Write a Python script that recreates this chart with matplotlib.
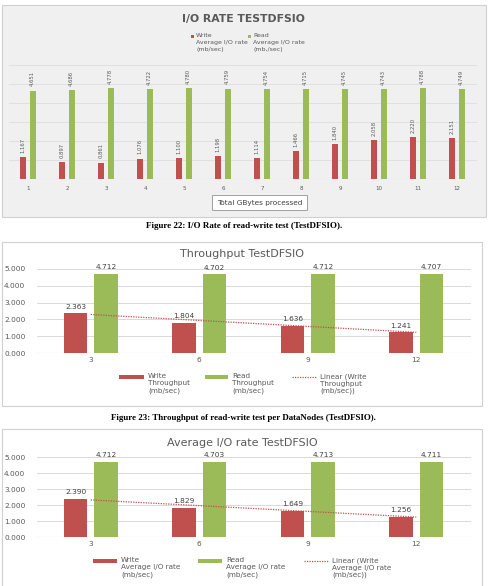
import numpy as np
import matplotlib
matplotlib.use("Agg")
import matplotlib.pyplot as plt
from matplotlib.patches import Rectangle
from matplotlib.lines import Line2D

W, H = 490, 586

# ---------------- data ----------------
gb_categories = ["1", "2", "3", "4", "5", "6", "7", "8", "9", "10", "11", "12"]
io_write = [1.167, 0.897, 0.861, 1.076, 1.100, 1.198, 1.114, 1.466, 1.840, 2.058, 2.220, 2.151]
io_read = [4.651, 4.686, 4.778, 4.722, 4.780, 4.759, 4.754, 4.715, 4.745, 4.743, 4.788, 4.749]

node_categories = ["3", "6", "9", "12"]
tp_write = [2.363, 1.804, 1.636, 1.241]
tp_read = [4.712, 4.702, 4.712, 4.707]

avg_write = [2.390, 1.829, 1.649, 1.256]
avg_read = [4.712, 4.703, 4.713, 4.711]

y_ticks_small = [0, 1, 2, 3, 4, 5]

RED = "#c0504d"
GREEN = "#9bbb59"
TXT = "#595959"
GRID = "#d9d9d9"

fig = plt.figure(figsize=(W / 100, H / 100), dpi=100)
fig.patch.set_facecolor("white")


def fx(x):
    return x / W


def fy(y):
    return 1 - y / H


def add_ax(left, top, right, bottom):
    ax = fig.add_axes([fx(left), fy(bottom), (right - left) / W, (bottom - top) / H])
    ax.set_zorder(3)
    return ax


def panel(x0, y0, x1, y1, face, edge):
    fig.patches.append(Rectangle((fx(x0), fy(y1)), (x1 - x0) / W, (y1 - y0) / H,
                                 transform=fig.transFigure, facecolor=face,
                                 edgecolor=edge, linewidth=0.8, zorder=-5))


def ftext(x, y, s, **kw):
    fig.text(fx(x), fy(y), s, **kw)


# ================= Chart 1 =================
panel(2, 5, 486, 217, "#f0f0f0", "#d0d0d0")
ftext(243, 19, "I/O RATE TESTDFSIO", ha="center", va="center",
      fontsize=7.8, fontweight="bold", color=TXT, family="DejaVu Sans")

# legend chart 1
for sx, col, lines in [(191, RED, ["Write", "Average I/O rate", "(mb/sec)"]),
                       (248, GREEN, ["Read", "Average I/O rate", "(mb,/sec)"])]:
    fig.patches.append(Rectangle((fx(sx), fy(38)), 3 / W, 3 / H, transform=fig.transFigure,
                                 facecolor=col, edgecolor="none"))
    ftext(sx + 5, 33, "\n".join(lines), ha="left", va="top", fontsize=4.5,
          color=TXT, linespacing=1.5)

ax1 = add_ax(8.5, 65, 476.5, 179)
x1 = np.arange(len(gb_categories))
bw = 0.15
ax1.bar(x1 - 0.12, io_write, bw, color=RED, zorder=3)
ax1.bar(x1 + 0.12, io_read, bw, color=GREEN, zorder=3)
for xi, v in zip(x1, io_write):
    ax1.annotate(f"{v:.3f}", (xi - 0.12, v), xytext=(0, 3), textcoords="offset points",
                 rotation=90, ha="center", va="bottom", fontsize=3.8, color=TXT)
for xi, v in zip(x1, io_read):
    ax1.annotate(f"{v:.3f}", (xi + 0.12, v), xytext=(0, 3), textcoords="offset points",
                 rotation=90, ha="center", va="bottom", fontsize=3.8, color=TXT)
ax1.set_xlim(-0.5, len(gb_categories) - 0.5)
ax1.set_ylim(0, 6)
ax1.set_yticks(range(0, 7))
ax1.set_yticklabels([])
ax1.set_xticks(x1)
ax1.set_xticklabels(gb_categories, fontsize=4, color=TXT)
ax1.tick_params(length=0, pad=5)
ax1.grid(axis="y", color="#e0e0e0", linewidth=0.7, zorder=0)
ax1.set_facecolor("none")
for s in ax1.spines.values():
    s.set_visible(False)
ax1.axhline(0, color="#d0d0d0", linewidth=0.8, zorder=2)

# axis title box
ftext(259.5, 202.5, "Total GBytes processed", ha="center", va="center", fontsize=5.3,
      color="#404040",
      bbox=dict(boxstyle="square,pad=0.6", facecolor="white", edgecolor="#a0a0a0", linewidth=0.7))

ftext(244, 226, "Figure 22: I/O Rate of read-write test (TestDFSIO).", ha="center", va="center",
      fontsize=6.5, fontweight="bold", family="Liberation Serif", color="black")


# ================= Charts 2 & 3 =================
def node_chart(top, bottom, ymid_title, title, write, read, wlab, rlab, llab,
               y0px, y5px, legend_y, leg_x):
    panel(2, top, 482, bottom, "white", "#d0d0d0")
    ftext(242, ymid_title, title, ha="center", va="center", fontsize=8, color=TXT)
    ax = add_ax(36.5, y5px, 470.5, y0px)
    x = np.arange(len(node_categories))
    w = 0.22
    ax.bar(x - 0.14, write, w, color=RED, zorder=3)
    ax.bar(x + 0.14, read, w, color=GREEN, zorder=3)
    for xi, v in zip(x, write):
        ax.annotate(f"{v:.3f}", (xi - 0.14, v), xytext=(0, 2.5), textcoords="offset points",
                    ha="center", va="bottom", fontsize=5.3, color="#404040")
    for xi, v in zip(x, read):
        ax.annotate(f"{v:.3f}", (xi + 0.14, v), xytext=(0, 2.5), textcoords="offset points",
                    ha="center", va="bottom", fontsize=5.3, color="#404040")
    coef = np.polyfit(x, write, 1)
    ax.plot(x, np.polyval(coef, x), linestyle=(0, (1, 1)), color=RED, linewidth=0.9, zorder=4)
    ax.set_xlim(-0.5, len(node_categories) - 0.5)
    ax.set_ylim(0, 5)
    ax.set_yticks(y_ticks_small)
    ax.set_yticklabels([f"{t:.3f}" for t in y_ticks_small], fontsize=5.3, color=TXT)
    ax.set_xticks(x)
    ax.set_xticklabels(node_categories, fontsize=5.3, color=TXT)
    ax.tick_params(length=0, pad=3)
    ax.tick_params(axis="y", pad=8)
    ax.grid(axis="y", color=GRID, linewidth=0.7, zorder=0)
    for s in ax.spines.values():
        s.set_visible(False)
    ax.axhline(0, color="#c8c8c8", linewidth=0.8, zorder=2)
    ax.set_facecolor("none")

    # legend
    (rx, rtx), (gx, gtx), (lx, ltx) = leg_x
    for px0, col, tx, lab in [(rx, RED, rtx, wlab), (gx, GREEN, gtx, rlab)]:
        fig.patches.append(Rectangle((fx(px0), fy(legend_y + 1.8)), (tx - 4 - px0) / W, 3.6 / H,
                                     transform=fig.transFigure, facecolor=col, edgecolor="none"))
        ftext(tx, legend_y - 4, lab, ha="left", va="top", fontsize=5.2, color=TXT, linespacing=1.25)
    fig.lines.append(Line2D([fx(lx), fx(ltx - 3)], [fy(legend_y), fy(legend_y)],
                            transform=fig.transFigure, color=RED, linestyle=(0, (1, 1)),
                            linewidth=0.9))
    ftext(ltx, legend_y - 4, llab, ha="left", va="top", fontsize=5.2, color=TXT, linespacing=1.25)


node_chart(242, 406, 254, "Throughput TestDFSIO", tp_write, tp_read,
           "Write\nThroughput\n(mb/sec)", "Read\nThroughput\n(mb/sec)",
           "Linear (Write\nThroughput\n(mb/sec))",
           353, 269, 377, [(119, 148), (205, 232), (292, 320)])

ftext(243, 418, "Figure 23: Throughput of read-write test per DataNodes (TestDFSIO).",
      ha="center", va="center", fontsize=6.4, fontweight="bold", family="Liberation Serif",
      color="black")

node_chart(429, 600, 443, "Average I/O rate TestDFSIO", avg_write, avg_read,
           "Write\nAverage I/O rate\n(mb/sec)", "Read\nAverage I/O rate\n(mb/sec)",
           "Linear (Write\nAverage I/O rate\n(mb/sec))",
           537, 457, 561, [(93, 121), (198, 226), (304, 332)])

fig.savefig("out.png", dpi=100, facecolor="white")
